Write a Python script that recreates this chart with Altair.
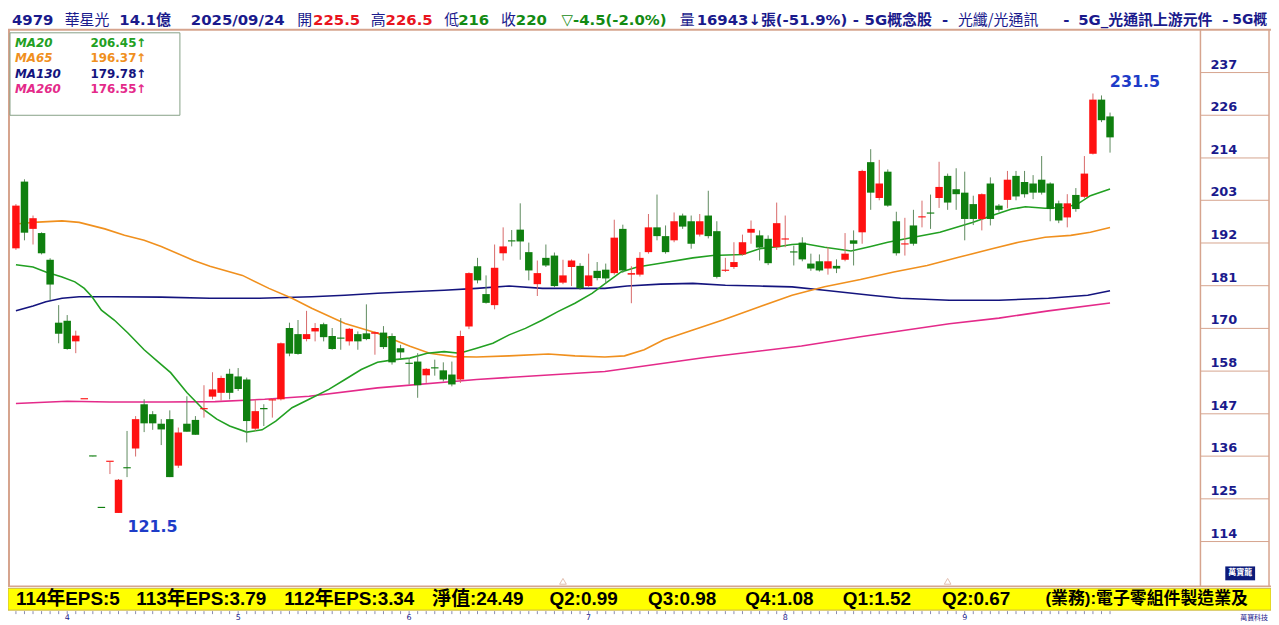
import altair as alt
import pandas as pd

W, H = 1271, 617

# ---------------- data ----------------
opens = [190.9, 208.4, 196.0, 194.9, 187.9, 171.4, 171.9, 166.5, 151.3, 136.4,
         122.9, 134.9, 121.5, 133.4, 138.4, 150.0, 147.4, 144.9, 146.1, 133.9,
         144.9, 145.9, 148.7, 152.0, 153.0, 158.0, 157.3, 156.5, 143.6, 148.9,
         151.0, 151.3, 170.0, 168.4, 167.1, 169.1, 171.0, 167.9, 167.4, 166.5,
         168.4, 168.6, 168.5, 168.8, 167.9, 164.7, 160.9, 161.2, 157.6, 159.6,
         158.9, 157.8, 156.5, 170.4, 186.2, 178.9, 176.0, 189.6, 192.9, 195.8,
         189.9, 181.5, 188.4, 189.0, 181.9, 186.0, 186.3, 181.0, 185.0, 185.3,
         184.4, 196.0, 184.0, 184.0, 189.9, 196.4, 194.1, 193.0, 199.5, 198.0,
         194.5, 199.5, 195.4, 185.0, 186.0, 189.3, 195.0, 194.3, 193.4, 191.2,
         193.2, 189.9, 192.4, 186.9, 187.5, 185.6, 186.3, 187.9, 193.0, 195.1,
         213.5, 204.1, 211.0, 198.0, 191.9, 196.9, 199.0, 200.3, 204.1, 209.9,
         206.4, 205.5, 202.5, 198.6, 207.9, 202.1, 203.6, 209.9, 208.3, 207.9,
         208.9, 207.9, 202.7, 199.0, 204.9, 204.4, 215.7, 229.9, 225.5]
highs = [202.5, 209.0, 199.5, 195.1, 188.3, 176.0, 173.4, 169.3, 151.3, 136.4,
         122.9, 134.9, 130.4, 143.0, 146.9, 151.3, 148.2, 146.1, 148.4, 143.9,
         152.1, 146.9, 155.0, 158.4, 157.5, 159.3, 159.5, 157.0, 151.3, 150.0,
         151.5, 166.2, 171.4, 172.1, 174.5, 171.3, 171.4, 170.0, 172.6, 170.0,
         169.1, 176.2, 169.1, 170.5, 168.6, 165.6, 162.1, 163.4, 159.5, 161.7,
         161.0, 161.2, 169.3, 184.6, 188.4, 183.8, 191.9, 196.4, 195.7, 202.7,
         192.4, 187.7, 191.9, 189.8, 187.9, 188.0, 187.0, 189.5, 187.3, 186.9,
         198.4, 197.1, 186.2, 189.9, 199.9, 205.0, 196.9, 200.3, 200.0, 199.5,
         199.9, 206.0, 198.0, 188.4, 192.5, 194.5, 198.2, 195.6, 194.3, 202.9,
         199.5, 191.6, 193.8, 189.5, 189.3, 191.2, 188.0, 194.9, 195.6, 211.5,
         216.9, 214.1, 211.6, 200.5, 198.9, 201.0, 203.4, 205.0, 213.6, 210.5,
         211.9, 211.0, 204.7, 205.3, 209.5, 202.5, 211.2, 211.2, 211.2, 210.1,
         215.1, 208.2, 203.4, 205.1, 206.7, 215.1, 231.5, 231.0, 226.5]
lows = [190.5, 193.0, 191.9, 189.3, 177.3, 166.0, 164.3, 163.4, 151.3, 136.3,
        122.8, 131.7, 121.5, 130.9, 136.3, 142.7, 143.3, 139.3, 130.9, 133.3,
        142.8, 142.0, 146.5, 151.3, 151.0, 151.3, 153.5, 140.0, 143.0, 144.3,
        146.5, 151.0, 162.6, 163.0, 166.5, 166.5, 166.5, 164.3, 164.3, 165.4,
        164.3, 166.8, 163.0, 164.5, 160.4, 162.1, 155.2, 151.7, 155.6, 157.5,
        156.0, 154.7, 155.6, 169.7, 181.7, 176.4, 174.9, 187.7, 191.4, 187.9,
        182.5, 178.4, 186.0, 180.7, 181.5, 181.0, 180.0, 180.8, 182.5, 181.7,
        184.0, 184.5, 176.5, 183.5, 189.5, 193.0, 189.5, 192.5, 196.0, 190.8,
        194.0, 193.5, 183.0, 184.7, 185.5, 189.0, 192.1, 187.7, 186.5, 190.5,
        191.2, 186.4, 187.5, 185.0, 184.8, 184.0, 184.4, 187.5, 186.4, 192.1,
        201.0, 203.5, 201.8, 189.0, 189.0, 191.6, 196.4, 196.0, 201.5, 201.0,
        201.0, 193.0, 197.0, 195.6, 196.9, 200.5, 201.4, 203.5, 204.2, 203.8,
        205.0, 198.0, 197.5, 196.4, 200.5, 204.0, 215.5, 224.0, 216.0]
closes = [202.1, 195.0, 198.8, 189.6, 181.4, 168.5, 164.5, 168.0, 151.3, 136.3,
          122.8, 134.9, 130.2, 133.2, 146.1, 145.0, 145.0, 143.4, 130.9, 142.6,
          142.8, 142.0, 148.9, 153.9, 156.9, 153.0, 154.0, 145.6, 148.2, 148.7,
          151.3, 166.0, 163.3, 163.2, 168.4, 170.0, 167.6, 164.5, 167.2, 169.8,
          166.5, 167.1, 168.9, 165.0, 161.0, 163.6, 160.6, 155.0, 159.3, 159.4,
          156.5, 155.2, 167.9, 184.4, 182.5, 176.6, 185.8, 191.4, 192.7, 192.7,
          185.1, 184.4, 186.4, 181.0, 183.8, 187.7, 180.4, 183.8, 183.1, 183.0,
          193.7, 185.1, 184.4, 188.4, 196.4, 194.1, 189.9, 198.0, 196.6, 192.1,
          198.0, 194.1, 183.4, 185.3, 187.3, 192.5, 196.0, 191.1, 187.0, 197.5,
          193.4, 189.8, 188.0, 185.6, 185.1, 187.5, 185.6, 189.5, 192.1, 211.2,
          205.5, 207.9, 202.1, 189.6, 192.1, 192.1, 199.2, 200.0, 207.0, 202.9,
          205.1, 198.6, 198.6, 205.1, 198.6, 201.0, 208.9, 204.5, 205.1, 205.5,
          205.5, 201.2, 198.2, 202.7, 201.2, 210.5, 229.9, 224.5, 220.0]

ma20_pos = [0, 2, 3.5, 5.4, 6.9, 8, 8.9, 10, 11.5, 13.1, 15, 16.6, 18.1, 20, 21.9,
            23.5, 25, 27, 28.8, 30.4, 32.3, 34.3, 36.6, 38.5, 40.4, 42.3, 44.3, 46.1,
            48.1, 50.1, 51.9, 53.9, 55.8, 57.7, 59.6, 61.6, 63.4, 65.4, 67.4, 69.2,
            70.8, 72.7, 75.4, 79.2, 81.5, 85, 87, 89.3, 90.8, 92.3, 94.6, 97.7, 100,
            102, 105, 108.1, 111.9, 114.2, 116.5, 118.1, 120.4, 122.7, 124.2, 125.7, 128]
ma20_val = [186.6, 186.0, 184.7, 183.4, 182.1, 180.4, 178.2, 174.7, 172.1, 168.7,
            164.3, 161.2, 158.3, 153.1, 148.7, 146.1, 144.3, 142.7, 143.3, 145.6,
            149.1, 151.3, 153.9, 156.5, 159.1, 161.0, 161.7, 162.1, 163.4, 163.8,
            163.4, 164.7, 166.0, 168.2, 169.9, 172.1, 174.3, 176.5, 179.1, 182.1,
            184.7, 186.0, 187.0, 188.4, 189.0, 189.3, 190.8, 191.4, 191.9, 192.1,
            191.2, 190.2, 191.4, 192.5, 193.8, 195.1, 197.7, 199.5, 201.2, 201.8,
            201.4, 201.6, 202.5, 204.7, 206.45]
ma65_pos = [0, 2, 5.4, 7.4, 10.4, 12.7, 15, 17, 20.8, 22.7, 26.5, 29.6, 32.3, 34.6,
            38.5, 42.3, 46.1, 48.4, 51.2, 53.9, 57.7, 62.3, 65.4, 68.9, 71.2, 73.5,
            75.8, 79.2, 82.7, 87, 90.8, 94.6, 98.8, 102.7, 106.6, 110.4, 114.2, 117.3,
            120.4, 123.4, 125.7, 128]
ma65_val = [197.3, 197.7, 198.1, 197.7, 196.0, 194.3, 193.0, 191.4, 187.7, 186.2,
            183.8, 180.4, 177.8, 175.2, 171.2, 168.6, 165.2, 163.4, 162.5, 162.4,
            162.7, 163.2, 162.7, 162.4, 162.7, 164.3, 166.9, 169.5, 172.1, 175.6,
            178.6, 180.8, 182.7, 184.7, 186.4, 188.6, 190.8, 192.5, 193.8, 194.3,
            195.1, 196.37]
ma130_pos = [0, 2, 3.5, 5.4, 7.4, 11.2, 17, 22.7, 28.5, 34.6, 38.5, 42.3, 46.1, 50.1,
             53.9, 57.7, 61.6, 65.4, 68.9, 71.5, 75.4, 79.2, 83, 87, 90.8, 94.6, 100,
             103.5, 109.2, 115, 120.8, 125.4, 128]
ma130_val = [174.5, 175.8, 176.9, 177.8, 178.2, 178.2, 178.1, 177.8, 177.8, 178.2,
             178.6, 179.1, 179.5, 179.9, 180.4, 181.0, 180.4, 180.4, 180.4, 181.0,
             181.5, 181.7, 181.2, 181.0, 180.8, 179.9, 178.6, 177.8, 177.3, 177.3,
             177.8, 178.6, 179.78]
ma260_pos = [0, 6, 11, 17.5, 23.3, 29.1, 34.3, 42.3, 53.9, 68.9, 80.4, 91.9, 98.8,
             109.2, 115, 120.8, 128]
ma260_val = [150.2, 150.8, 150.6, 150.6, 150.7, 151.3, 152.1, 154.3, 156.5, 158.6,
             162.2, 165.3, 167.7, 171.1, 172.6, 174.5, 176.55]

tick_values = [114.0, 125.2, 136.4, 147.5, 158.7, 169.9, 181.1, 192.3, 203.5, 214.6, 225.8, 237.0]
tick_labels = ["114", "125", "136", "147", "158", "170", "181", "192", "203", "214", "226", "237"]

month_pos = [6, 26, 46, 67, 90, 111]
month_labels = ["4", "5", "6", "7", "8", "9"]
marker_pos = [64, 109]

legend_names = ["MA20", "MA65", "MA130", "MA260"]
legend_values = ["206.45↑", "196.37↑", "179.78↑", "176.55↑"]

# ---------------- styling ----------------
NAVY = "#1a1a8c"
RED = "#e8141e"
GRN = "#138a13"
TAN = "#d6a48e"
C_UP, C_DN = "#ff1111", "#0f7f0f"
W_UP, W_DN = "#d86a6a", "#5f8a5f"
MA_COL = ["#22a022", "#f0901e", "#14147e", "#e42a8a"]
LAT = "DejaVu Sans"
CJK = "Noto Sans CJK TC"

xs = alt.Scale(domain=[-0.346, 146.25], nice=False, zero=False)
ys = alt.Scale(domain=[92.62, 253.42], nice=False, zero=False)

one = pd.DataFrame({"k": [0]})

df = pd.DataFrame({"i": list(range(len(opens))), "o": opens, "h": highs, "l": lows, "c": closes})
df["dir"] = ["up" if c >= o else "down" for o, c in zip(df.o, df.c)]
df["bl"] = df[["o", "c"]].min(axis=1)
df["bh"] = [max(a, b, mn + 0.3) for a, b, mn in zip(df.o, df.c, df.bl)]

X = alt.X("i:Q", scale=xs, axis=None)


def txt(t, px, py, color, size, weight="bold", font=LAT, align="left", baseline="middle", italic=False):
    kw = dict(align=align, baseline=baseline, font=font, fontSize=size, fontWeight=weight, color=color)
    if italic:
        kw["fontStyle"] = "italic"
    return alt.Chart(one).mark_text(**kw).encode(x=alt.value(px), y=alt.value(py), text=alt.value(t))


def hrule(x1, x2, y, color, w=1):
    return alt.Chart(one).mark_rule(color=color, strokeWidth=w).encode(
        x=alt.value(x1), x2=alt.value(x2), y=alt.value(y))


def vrule(x, y1, y2, color, w=1):
    return alt.Chart(one).mark_rule(color=color, strokeWidth=w).encode(
        x=alt.value(x), y=alt.value(y1), y2=alt.value(y2))


layers = []

layers.append(alt.Chart(one).mark_rect(color="white").encode(
    x=alt.value(0), x2=alt.value(W), y=alt.value(0), y2=alt.value(H)))

# moving averages
for pos, val, col in [(ma260_pos, ma260_val, MA_COL[3]), (ma130_pos, ma130_val, MA_COL[2]),
                      (ma65_pos, ma65_val, MA_COL[1]), (ma20_pos, ma20_val, MA_COL[0])]:
    d = pd.DataFrame({"i": pos, "v": val})
    layers.append(alt.Chart(d).mark_line(color=col, strokeWidth=1.6).encode(
        x=X, y=alt.Y("v:Q", scale=ys, axis=None)))

# candles
layers.append(alt.Chart(df).mark_rule(strokeWidth=1).encode(
    x=X, y=alt.Y("l:Q", scale=ys, axis=None), y2="h:Q",
    color=alt.condition("datum.dir == 'up'", alt.value(W_UP), alt.value(W_DN))))
layers.append(alt.Chart(df).mark_bar(size=7.5).encode(
    x=X, y=alt.Y("bl:Q", scale=ys, axis=None), y2="bh:Q",
    color=alt.condition("datum.dir == 'up'", alt.value(C_UP), alt.value(C_DN))))

# high / low annotations
ann = pd.DataFrame({"i": [126], "v": [231.5], "t": ["231.5"]})
layers.append(alt.Chart(ann).mark_text(align="left", baseline="middle", font=LAT, fontSize=16,
                                       fontWeight="bold", color="#1e3cc8", dx=17, dy=-12).encode(
    x=X, y=alt.Y("v:Q", scale=ys, axis=None), text="t:N"))
ann2 = pd.DataFrame({"i": [12], "v": [121.5], "t": ["121.5"]})
layers.append(alt.Chart(ann2).mark_text(align="left", baseline="middle", font=LAT, fontSize=16,
                                        fontWeight="bold", color="#1e3cc8", dx=9, dy=14).encode(
    x=X, y=alt.Y("v:Q", scale=ys, axis=None), text="t:N"))

# markers at plot bottom
mk = pd.DataFrame({"i": marker_pos})
layers.append(alt.Chart(mk).mark_point(shape="triangle-up", filled=False, color=TAN, size=45,
                                       strokeWidth=1).encode(x=X, y=alt.value(575)))

# header
layers.append(alt.Chart(one).mark_rect(color="white").encode(
    x=alt.value(0), x2=alt.value(W), y=alt.value(0), y2=alt.value(19)))
hdr = [
    ("4979", 4, NAVY, "b"), ("華星光", 57, NAVY, "c"), ("14.1億", 112, NAVY, "b"),
    ("2025/09/24", 184, NAVY, "b"), ("開", 291, NAVY, "c"), ("225.5", 307, RED, "b"),
    ("高", 365, NAVY, "c"), ("226.5", 380, RED, "b"), ("低", 439, NAVY, "c"),
    ("216", 453, GRN, "b"), ("收", 496, NAVY, "c"), ("220", 511, GRN, "b"),
    ("▽-4.5(-2.0%)", 557, GRN, "b"), ("量", 676, NAVY, "c"), ("16943↓張(-51.9%)", 693, NAVY, "b"),
    ("-", 850, NAVY, "b"), ("5G概念股", 862, NAVY, "b"), ("-", 940, NAVY, "b"),
    ("光纖/光通訊", 956, NAVY, "c"), ("-", 1062, NAVY, "b"), ("5G_光通訊上游元件", 1077, NAVY, "b"),
    ("-", 1222, NAVY, "b"), ("5G概", 1232, NAVY, "b"),
]
for t, px, col, kind in hdr:
    if kind == "c":
        layers.append(txt(t, px, 10, col, 15, weight="normal", font=CJK))
    elif t == "5G概":
        layers.append(txt(t, px, 10, col, 14, font=f"{LAT}, {CJK}"))
    else:
        layers.append(txt(t, px, 10, col, 15, font=f"{LAT}, {CJK}"))

# frame lines
layers.append(hrule(0, W, 20, TAN, 2))
layers.append(hrule(0, W, 580, TAN, 1.5))
layers.append(vrule(1, 20, 580, TAN, 2))
layers.append(vrule(1200, 20, 580, TAN, 1.5))
layers.append(vrule(1269, 20, 580, TAN, 1.5))

# right price axis box
tk = pd.DataFrame({"v": tick_values, "t": tick_labels})
layers.append(alt.Chart(tk).mark_rule(color=TAN, strokeWidth=1).encode(
    y=alt.Y("v:Q", scale=ys, axis=None), x=alt.value(1200), x2=alt.value(1269)))
layers.append(alt.Chart(tk).mark_text(align="left", baseline="alphabetic", font=LAT, fontSize=13,
                                      fontWeight="bold", color=NAVY, dy=-4).encode(
    y=alt.Y("v:Q", scale=ys, axis=None), x=alt.value(1210), text="t:N"))
layers.append(alt.Chart(one).mark_rect(color="#0c1a7a").encode(
    x=alt.value(1225), x2=alt.value(1255), y=alt.value(560), y2=alt.value(574)))
layers.append(txt("萬寶龍", 1240, 567, "white", 8, font=CJK, align="center"))

# legend box
layers.append(alt.Chart(one).mark_rect(fill="white", stroke="#86a086", strokeWidth=1).encode(
    x=alt.value(2), x2=alt.value(173), y=alt.value(23), y2=alt.value(106)))
for k, (nm, vv) in enumerate(zip(legend_names, legend_values)):
    yy = 33 + k * 15.5
    layers.append(txt(nm, 7, yy, MA_COL[k], 12, italic=True))
    layers.append(txt(vv, 83, yy, MA_COL[k], 12))

# yellow info bar
layers.append(alt.Chart(one).mark_rect(fill="#ffff00", stroke="#c9b24a", strokeWidth=1).encode(
    x=alt.value(0), x2=alt.value(W), y=alt.value(582), y2=alt.value(604)))
ftr = [("114年EPS:5", 8, 19), ("113年EPS:3.79", 129, 19), ("112年EPS:3.34", 278, 19),
       ("淨值:24.49", 427, 19), ("Q2:0.99", 545, 19), ("Q3:0.98", 644, 19), ("Q4:1.08", 742, 19),
       ("Q1:1.52", 840, 19), ("Q2:0.67", 940, 19), ("(業務):電子零組件製造業及", 1044, 17)]
for t, px, fs in ftr:
    layers.append(txt(t, px, 593, "black", fs, font=f"Liberation Sans, {CJK}"))

# bottom time ticks and month labels
tdf = pd.DataFrame({"i": list(range(len(opens)))})
layers.append(alt.Chart(tdf).mark_rule(color="#8a8ab0", strokeWidth=1).encode(
    x=X, y=alt.value(605), y2=alt.value(608)))
mdf = pd.DataFrame({"i": month_pos, "t": month_labels})
layers.append(alt.Chart(mdf).mark_text(align="center", baseline="middle", font=LAT, fontSize=8,
                                       color=NAVY).encode(x=X, y=alt.value(612), text="t:N"))
layers.append(txt("萬寶科技", 1240, 612, NAVY, 7, weight="normal", font=CJK))

chart = alt.layer(*layers).properties(
    width=W, height=H, autosize=alt.AutoSizeParams(type="none"), padding=0, background="white"
).configure_view(stroke=None)

chart.save("out.html", embed_options={"renderer": "svg", "actions": False})
